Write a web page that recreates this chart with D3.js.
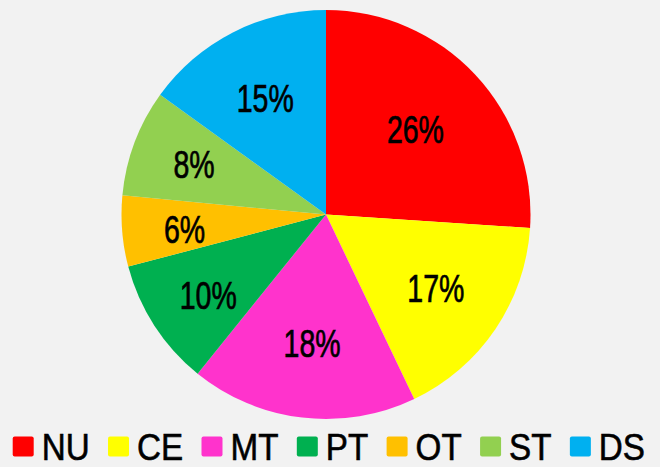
<!DOCTYPE html>
<html><head><meta charset="utf-8">
<script src="https://cdn.jsdelivr.net/npm/d3@7"></script>
<style>html,body{margin:0;padding:0;background:#f2f2f2;}svg{display:block;}</style>
</head><body>
<svg id="chart" width="660" height="467"></svg>
<script>
const categories = ["NU","CE","MT","PT","OT","ST","DS"];
const values = [26.05,16.85,17.9,10.1,5.6,8.45,15.05];
const colors = ["#FF0000","#FFFF00","#FF33CC","#00B050","#FFC000","#92D050","#00B0F0"];
// label placement (fraction of radius, angle shift in degrees)
const labelRadius = [0.602,0.648,0.635,0.699,0.696,0.689,0.641];
const labelShift = [-0.3,-0.1,-0.5,-1.6,-1.5,0,-0.5];

const W = 660, H = 467;
const cx = 326, cy = 214.5, R = 204.5;
const FONT = "'Liberation Sans', Arial, sans-serif";
const svg = d3.select("#chart");
svg.append("rect").attr("width", W).attr("height", H).attr("fill", "#f2f2f2");

const data = categories.map((c,i)=>({cat:c, value:values[i], color:colors[i], i}));
const pie = d3.pie().value(d=>d.value).sort(null);
const arcs = pie(data);
const arc = d3.arc().innerRadius(0).outerRadius(R);

const g = svg.append("g").attr("transform", `translate(${cx},${cy})`);
g.selectAll("path").data(arcs).join("path")
  .attr("d", arc).attr("fill", d=>d.data.color);

const total = d3.sum(values);
g.selectAll("text").data(arcs).join("text")
  .attr("transform", d=>{
    const a = (d.startAngle+d.endAngle)/2 + labelShift[d.data.i]*Math.PI/180;
    const r = labelRadius[d.data.i]*R;
    return `translate(${r*Math.sin(a)},${-r*Math.cos(a)}) scale(0.75,1)`;})
  .attr("text-anchor","middle").attr("dy","0.355em")
  .attr("font-family",FONT).attr("font-size", 38)
  .attr("fill","#000").attr("stroke","#000").attr("stroke-width",0.7)
  .text(d=>Math.round(d.data.value/total*100)+"%");

// legend
const leg = svg.append("g");
const sx = 0.886, fs = 37.5, sq = 21, gap1 = 8;
const items = data.map(d=>{
  const it = leg.append("g");
  it.append("rect").attr("x",0).attr("y",-10).attr("width",sq).attr("height",20).attr("rx",2).attr("fill",d.color);
  const t = it.append("text").attr("transform",`translate(${sq+gap1},0) scale(${sx},1)`)
    .attr("dy","0.355em").attr("font-family",FONT)
    .attr("font-size",fs).attr("fill","#000").attr("stroke","#000").attr("stroke-width",0.6).text(d.cat);
  const w = t.node().getComputedTextLength()*sx;
  return {it, w: sq+gap1+w};
});
const left = 12.7, right = 645;
const gap2 = (right-left - d3.sum(items, d=>d.w))/(items.length-1);
let x = left;
items.forEach(o=>{ o.it.attr("transform",`translate(${x},0)`); x += o.w + gap2; });
leg.attr("transform",`translate(0,446.5)`);
</script>
</body></html>
